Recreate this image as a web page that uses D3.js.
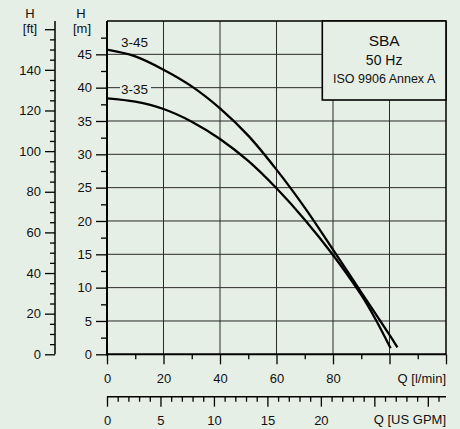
<!DOCTYPE html>
<html>
<head>
<meta charset="utf-8">
<script src="https://cdn.jsdelivr.net/npm/d3@7"></script>
<style>
  html, body { margin: 0; padding: 0; background: #e6efe6; }
  svg { display: block; font-family: "Liberation Sans", Arial, sans-serif; }
</style>
</head>
<body>
<svg id="chart" width="460" height="429"></svg>
<script>
// ---- data ----
const flow345 = [0, 10, 20, 30, 40, 50, 60, 70, 80, 90, 100, 102.8];
const head345 = [45.7, 44.7, 42.7, 40.2, 36.9, 32.8, 27.7, 22.0, 15.7, 9.3, 2.9, 1.05];
const flow335 = [0, 10, 20, 30, 40, 50, 60, 70, 80, 90, 95, 100.4];
const head335 = [38.4, 37.9, 36.8, 34.9, 32.3, 29.0, 24.9, 20.2, 14.9, 8.9, 5.3, 0.9];
const seriesNames = ["3-45", "3-35"];
const mTicks = [0, 5, 10, 15, 20, 25, 30, 35, 40, 45];
const ftTicks = [0, 20, 40, 60, 80, 100, 120, 140, 160];
const ftLabels = ["0", "20", "40", "60", "80", "100", "120", "140", ""];
const lminTicks = [0, 20, 40, 60, 80, 100, 120];
const lminLabels = ["0", "20", "40", "60", "80", "", ""];
const gpmTicks = [0, 5, 10, 15, 20, 25, 30];
const gpmLabels = ["0", "5", "10", "15", "20", "", ""];
const legendLines = ["SBA", "50 Hz", "ISO 9906 Annex A"];

const svg = d3.select("#chart");
const BG = "#e6efe6";
const L = 107, R = 446, T = 21, B = 354.3;
const x = d3.scaleLinear().domain([0, 120]).range([L, R]);
const y = d3.scaleLinear().domain([0, 50]).range([B, T]);
const yft = d3.scaleLinear().domain([0, 50 / 0.3048]).range([B, T]);
const xg = d3.scaleLinear().domain([0, 120 / 3.785411784]).range([L, R]);

svg.append("rect").attr("width", 460).attr("height", 429).attr("fill", BG);

// grid
const grid = svg.append("g").attr("stroke", "#2a2a2a").attr("stroke-width", 1);
mTicks.filter(d => d > 0).forEach(d => {
  grid.append("line").attr("x1", L).attr("x2", R).attr("y1", y(d)).attr("y2", y(d));
});
lminTicks.filter(d => d > 0 && d < 120).forEach(d => {
  grid.append("line").attr("x1", x(d)).attr("x2", x(d)).attr("y1", T).attr("y2", B);
});
// frame
const frame = svg.append("g").attr("stroke", "#000").attr("fill", "none");
frame.append("line").attr("x1", L).attr("x2", R).attr("y1", T).attr("y2", T).attr("stroke-width", 1.5);
frame.append("line").attr("x1", R).attr("x2", R).attr("y1", T).attr("y2", B).attr("stroke-width", 1.5);

function styleAxis(g) {
  g.select(".domain").remove();
  g.selectAll("line").attr("stroke", "#000").attr("stroke-width", 1.3);
  g.selectAll("text").attr("font-size", 13).attr("fill", "#111")
    .attr("font-family", "'Liberation Sans', Arial, sans-serif");
}

// m axis
const mMinor = d3.range(2.5, 50, 5);
svg.append("g").attr("transform", `translate(${L},0)`)
  .call(d3.axisLeft(y).tickValues(mMinor).tickSize(6).tickFormat(""))
  .call(styleAxis);
svg.append("g").attr("transform", `translate(${L},0)`)
  .call(d3.axisLeft(y).tickValues(mTicks).tickSize(11).tickPadding(4).tickFormat(d3.format("d")))
  .call(styleAxis);
svg.append("line").attr("x1", L).attr("x2", L).attr("y1", T).attr("y2", B + 1)
  .attr("stroke", "#000").attr("stroke-width", 2);

// ft axis
const FTX = 55;
const ftMinor = d3.range(5, 164, 5).filter(d => d % 20 !== 0);
svg.append("g").attr("transform", `translate(${FTX},0)`)
  .call(d3.axisLeft(yft).tickValues(ftMinor).tickSize(5).tickFormat(""))
  .call(styleAxis);
svg.append("g").attr("transform", `translate(${FTX},0)`)
  .call(d3.axisLeft(yft).tickValues(ftTicks).tickSize(10).tickPadding(4)
    .tickFormat((d, i) => ftLabels[i]))
  .call(styleAxis);
svg.append("line").attr("x1", FTX).attr("x2", FTX).attr("y1", T).attr("y2", B)
  .attr("stroke", "#000").attr("stroke-width", 1.5);

// l/min axis
const lminMinor = d3.range(10, 120, 20);
svg.append("g").attr("transform", `translate(0,${B})`)
  .call(d3.axisBottom(x).tickValues(lminMinor).tickSize(5).tickFormat(""))
  .call(styleAxis);
svg.append("g").attr("transform", `translate(0,${B})`)
  .call(d3.axisBottom(x).tickValues(lminTicks).tickSize(10).tickPadding(9)
    .tickFormat((d, i) => lminLabels[i]))
  .call(styleAxis);
svg.append("line").attr("x1", L - 1).attr("x2", R).attr("y1", B).attr("y2", B)
  .attr("stroke", "#000").attr("stroke-width", 2);

// GPM axis
const GY = 396.7;
const gpmMinor = d3.range(1, 32, 1).filter(d => d % 5 !== 0);
svg.append("g").attr("transform", `translate(0,${GY})`)
  .call(d3.axisBottom(xg).tickValues(gpmMinor).tickSize(5).tickFormat(""))
  .call(styleAxis);
svg.append("g").attr("transform", `translate(0,${GY})`)
  .call(d3.axisBottom(xg).tickValues(gpmTicks).tickSize(10).tickPadding(9)
    .tickFormat((d, i) => gpmLabels[i]))
  .call(styleAxis);
svg.append("line").attr("x1", L).attr("x2", R).attr("y1", GY).attr("y2", GY)
  .attr("stroke", "#000").attr("stroke-width", 1.5);

// axis titles
const txt = (s, xx, yy, anchor, size) => svg.append("text").text(s)
  .attr("x", xx).attr("y", yy).attr("text-anchor", anchor)
  .attr("font-size", size).attr("fill", "#111");
txt("H", 30, 18, "middle", 13);
txt("[ft]", 30, 33, "middle", 13);
txt("H", 81, 18, "middle", 13);
txt("[m]", 82, 33, "middle", 13);
txt("Q [l/min]", 446, 383, "end", 13);
txt("Q [US GPM]", 446, 424, "end", 13);

// curves
const line = d3.line().x(d => x(d[0])).y(d => y(d[1])).curve(d3.curveCatmullRom.alpha(0.5));
const curves = [d3.zip(flow345, head345), d3.zip(flow335, head335)];
svg.append("g").selectAll("path").data(curves).join("path")
  .attr("d", line).attr("fill", "none").attr("stroke", "#000")
  .attr("stroke-width", 2.3).attr("stroke-linejoin", "round");

// curve labels
svg.append("rect").attr("x", 120).attr("y", 84).attr("width", 31).attr("height", 9).attr("fill", BG);
txt(seriesNames[0], 121, 47, "start", 13.5);
txt(seriesNames[1], 121, 94, "start", 13.5);

// legend box
svg.append("rect").attr("x", 322.3).attr("y", T).attr("width", R - 322.3).attr("height", 100 - T)
  .attr("fill", BG).attr("stroke", "#000").attr("stroke-width", 1.6);
const cx = (322.3 + R) / 2;
txt(legendLines[0], cx, 45.5, "middle", 15.5);
txt(legendLines[1], cx, 65, "middle", 14);
txt(legendLines[2], cx, 83.3, "middle", 12.5);
</script>
</body>
</html>
